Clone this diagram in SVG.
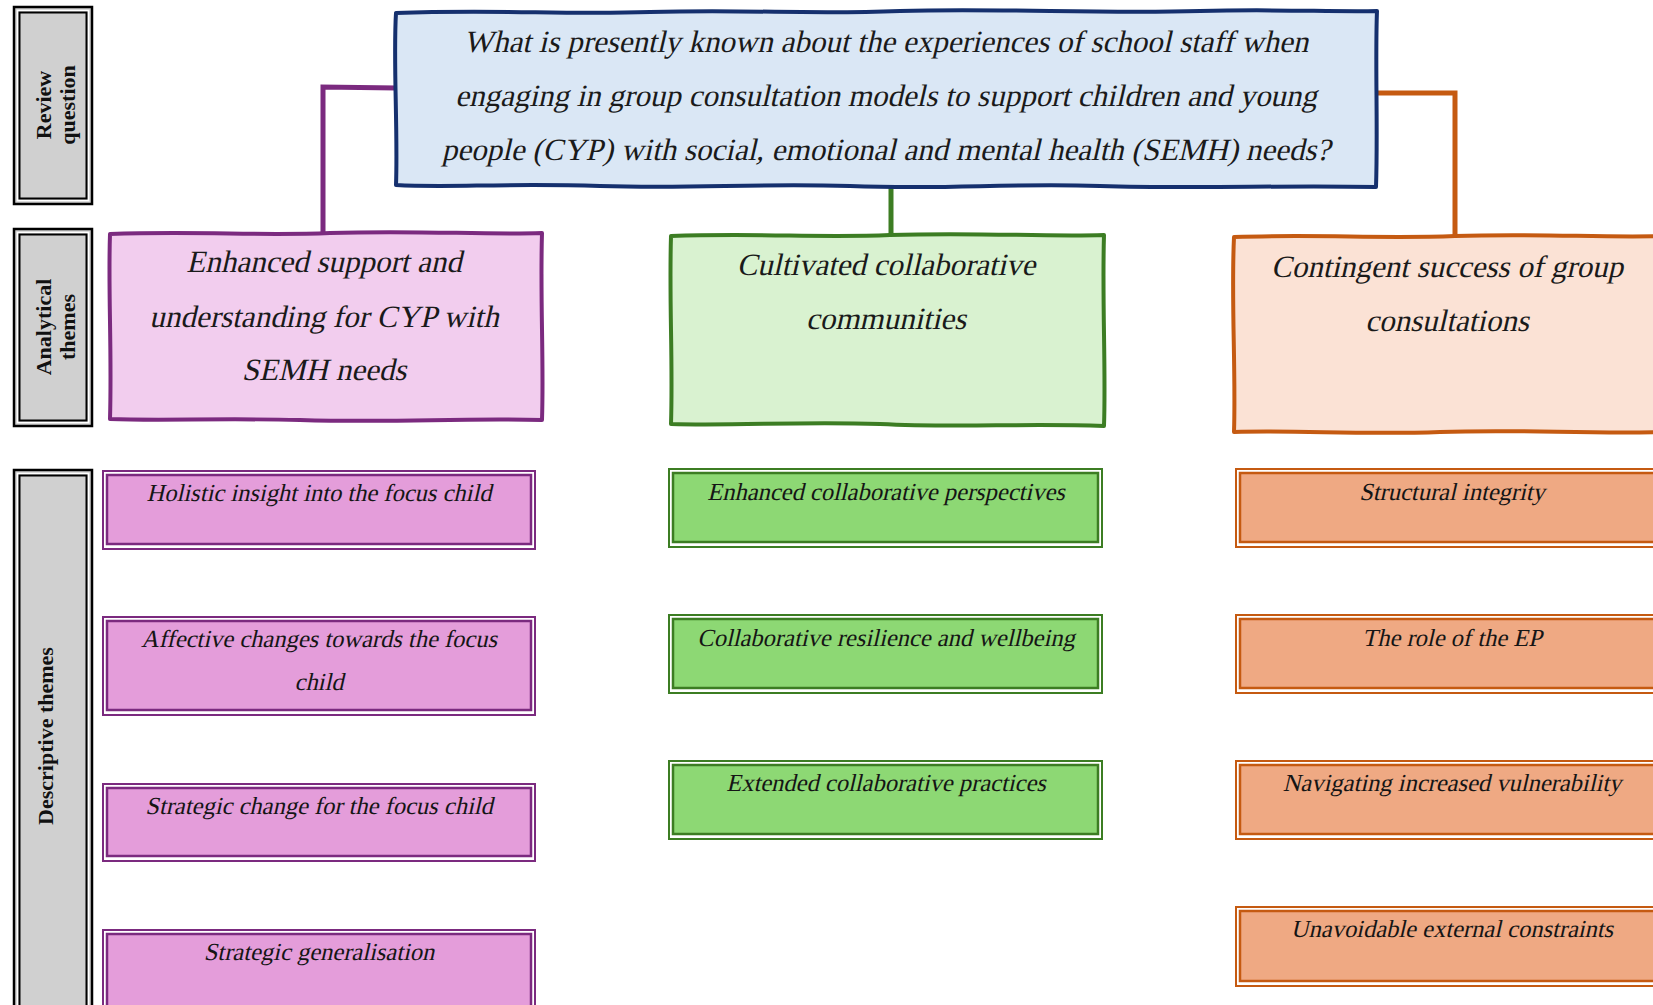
<svg xmlns="http://www.w3.org/2000/svg" width="1653" height="1005" viewBox="0 0 1653 1005">
  <style>
    .bg { fill: #ffffff; }
    .side-outer { fill: #d0d0d0; stroke: #000; stroke-width: 2.5; }
    .side-gap { fill: none; stroke: #ffffff; stroke-width: 1.5; }
    .side-inner { fill: none; stroke: #000; stroke-width: 2; }
    .side-text { font-family: "Liberation Serif", "Times New Roman", serif; font-weight: bold; font-size: 22px; fill: #111; text-anchor: middle; }
    .q-text { font-family: "Liberation Serif", "Times New Roman", serif; font-size: 31px; fill: #1a1a1a; text-anchor: middle; }
    .a-text { font-family: "Liberation Serif", "Times New Roman", serif; font-size: 31px; fill: #1a1a1a; text-anchor: middle; }
    .d-text { font-family: "Liberation Serif", "Times New Roman", serif; font-size: 24.5px; fill: #151515; text-anchor: middle; }
    .conn { fill: none; stroke-width: 5; stroke-linejoin: miter; }
    .sketch { stroke-width: 4; stroke-linejoin: round; }
    .d-outer { fill: #ffffff; stroke-width: 2; }
    .d-inner { stroke-width: 2.5; }
    .purple { stroke: #7b2a7f; }
    .green { stroke: #3c7d23; }
    .orange { stroke: #c55a11; }
    .navy { stroke: #15306e; }
  </style>

  <rect class="bg" x="0" y="0" width="1653" height="1005"/>

  <!-- Row labels on the left -->
  <g id="label-review">
    <rect class="side-outer" x="14" y="7" width="78" height="197"/>
    <rect class="side-gap" x="17.5" y="10.5" width="71" height="190"/>
    <rect class="side-inner" x="19.5" y="12.5" width="67" height="186"/>
    <text class="side-text" transform="translate(51,105) rotate(-90)">Review</text>
    <text class="side-text" transform="translate(75,105) rotate(-90)">question</text>
  </g>
  <g id="label-analytical">
    <rect class="side-outer" x="14" y="229" width="78" height="197"/>
    <rect class="side-gap" x="17.5" y="232.5" width="71" height="190"/>
    <rect class="side-inner" x="19.5" y="234.5" width="67" height="186"/>
    <text class="side-text" transform="translate(51,327) rotate(-90)">Analytical</text>
    <text class="side-text" transform="translate(75,327) rotate(-90)">themes</text>
  </g>
  <g id="label-descriptive">
    <rect class="side-outer" x="14" y="470" width="78" height="560"/>
    <rect class="side-gap" x="17.5" y="473.5" width="71" height="553"/>
    <rect class="side-inner" x="19.5" y="475.5" width="67" height="549"/>
    <text class="side-text" transform="translate(53,736) rotate(-90)">Descriptive themes</text>
  </g>

  <!-- Connectors from the review question to the analytical themes -->
  <g id="connectors">
    <path class="conn purple" d="M397,88 L323,87 L323,233"/>
    <path class="conn green" d="M891,186 L891,236"/>
    <path class="conn orange" d="M1375,93 L1455,93 L1455,237"/>
  </g>

  <!-- Review question (slanted serif text) -->
  <g id="question">
    <path class="sketch navy" fill="#dae7f5" d="M396,13 C500,9 560,15 650,12 C760,9 800,15 900,11 C1000,8 1100,14 1200,11 C1280,9 1330,12 1377,11 C1375,60 1378,130 1376,187 C1280,185 1200,189 1100,186 C1000,183 950,190 850,186 C750,183 700,189 600,186 C500,183 450,188 396,185 C398,130 393,60 396,13 Z"/>
    <text class="q-text" transform="translate(886,52) skewX(-13)">What is presently known about the experiences of school staff when</text>
    <text class="q-text" transform="translate(886,106) skewX(-13)">engaging in group consultation models to support children and young</text>
    <text class="q-text" transform="translate(886,160) skewX(-13)">people (CYP) with social, emotional and mental health (SEMH) needs?</text>
  </g>

  <!-- Analytical themes -->
  <g id="theme-support">
    <path class="sketch purple" fill="#f2cdee" d="M110,234 C200,231 260,236 330,233 C420,230 480,235 542,233 C540,300 544,360 542,420 C450,418 400,423 300,420 C220,418 160,421 110,419 C112,350 108,290 110,234 Z"/>
    <text class="a-text" transform="translate(324,272) skewX(-13)">Enhanced support and</text>
    <text class="a-text" transform="translate(324,327) skewX(-13)">understanding for CYP with</text>
    <text class="a-text" transform="translate(324,380) skewX(-13)">SEMH needs</text>
  </g>
  <g id="theme-communities">
    <path class="sketch green" fill="#d9f2d0" d="M671,236 C760,233 820,238 890,235 C980,232 1040,237 1104,235 C1102,300 1106,370 1104,426 C1020,423 960,428 880,424 C800,421 740,426 671,424 C673,360 669,300 671,236 Z"/>
    <text class="a-text" transform="translate(886,275) skewX(-13)">Cultivated collaborative</text>
    <text class="a-text" transform="translate(886,329) skewX(-13)">communities</text>
  </g>
  <g id="theme-contingent">
    <path class="sketch orange" fill="#fbe2d5" d="M1234,237 C1320,234 1380,239 1455,236 C1540,233 1600,238 1665,236 L1665,432 C1580,434 1520,429 1440,432 C1360,435 1300,430 1234,432 C1236,370 1231,300 1234,237 Z"/>
    <text class="a-text" transform="translate(1447,277) skewX(-13)">Contingent success of group</text>
    <text class="a-text" transform="translate(1447,331) skewX(-13)">consultations</text>
  </g>

  <!-- Descriptive themes: support column -->
  <g id="desc-holistic">
    <rect class="d-outer purple" x="103" y="471" width="432" height="78"/>
    <rect class="d-inner purple" fill="#e49dda" x="107" y="475" width="424" height="69"/>
    <text class="d-text" transform="translate(319,501) skewX(-13)">Holistic insight into the focus child</text>
  </g>
  <g id="desc-affective">
    <rect class="d-outer purple" x="103" y="617" width="432" height="98"/>
    <rect class="d-inner purple" fill="#e49dda" x="107" y="621" width="424" height="89"/>
    <text class="d-text" transform="translate(319,647) skewX(-13)">Affective changes towards the focus</text>
    <text class="d-text" transform="translate(319,690) skewX(-13)">child</text>
  </g>
  <g id="desc-strategic-change">
    <rect class="d-outer purple" x="103" y="784" width="432" height="77"/>
    <rect class="d-inner purple" fill="#e49dda" x="107" y="788" width="424" height="68"/>
    <text class="d-text" transform="translate(319,814) skewX(-13)">Strategic change for the focus child</text>
  </g>
  <g id="desc-generalisation">
    <rect class="d-outer purple" x="103" y="930" width="432" height="90"/>
    <rect class="d-inner purple" fill="#e49dda" x="107" y="934" width="424" height="90"/>
    <text class="d-text" transform="translate(319,960) skewX(-13)">Strategic generalisation</text>
  </g>

  <!-- Descriptive themes: communities column -->
  <g id="desc-perspectives">
    <rect class="d-outer green" x="669" y="469" width="433" height="78"/>
    <rect class="d-inner green" fill="#8dd874" x="673" y="473" width="425" height="69"/>
    <text class="d-text" transform="translate(886,500) skewX(-13)">Enhanced collaborative perspectives</text>
  </g>
  <g id="desc-resilience">
    <rect class="d-outer green" x="669" y="615" width="433" height="78"/>
    <rect class="d-inner green" fill="#8dd874" x="673" y="619" width="425" height="69"/>
    <text class="d-text" transform="translate(886,646) skewX(-13)">Collaborative resilience and wellbeing</text>
  </g>
  <g id="desc-practices">
    <rect class="d-outer green" x="669" y="761" width="433" height="78"/>
    <rect class="d-inner green" fill="#8dd874" x="673" y="765" width="425" height="69"/>
    <text class="d-text" transform="translate(886,791) skewX(-13)">Extended collaborative practices</text>
  </g>

  <!-- Descriptive themes: contingent column -->
  <g id="desc-structural">
    <rect class="d-outer orange" x="1236" y="469" width="440" height="78"/>
    <rect class="d-inner orange" fill="#efa983" x="1240" y="473" width="440" height="69"/>
    <text class="d-text" transform="translate(1452,500) skewX(-13)">Structural integrity</text>
  </g>
  <g id="desc-ep-role">
    <rect class="d-outer orange" x="1236" y="615" width="440" height="78"/>
    <rect class="d-inner orange" fill="#efa983" x="1240" y="619" width="440" height="69"/>
    <text class="d-text" transform="translate(1452,646) skewX(-13)">The role of the EP</text>
  </g>
  <g id="desc-vulnerability">
    <rect class="d-outer orange" x="1236" y="761" width="440" height="78"/>
    <rect class="d-inner orange" fill="#efa983" x="1240" y="765" width="440" height="69"/>
    <text class="d-text" transform="translate(1452,791) skewX(-13)">Navigating increased vulnerability</text>
  </g>
  <g id="desc-constraints">
    <rect class="d-outer orange" x="1236" y="907" width="440" height="79"/>
    <rect class="d-inner orange" fill="#efa983" x="1240" y="911" width="440" height="70"/>
    <text class="d-text" transform="translate(1452,937) skewX(-13)">Unavoidable external constraints</text>
  </g>
</svg>
